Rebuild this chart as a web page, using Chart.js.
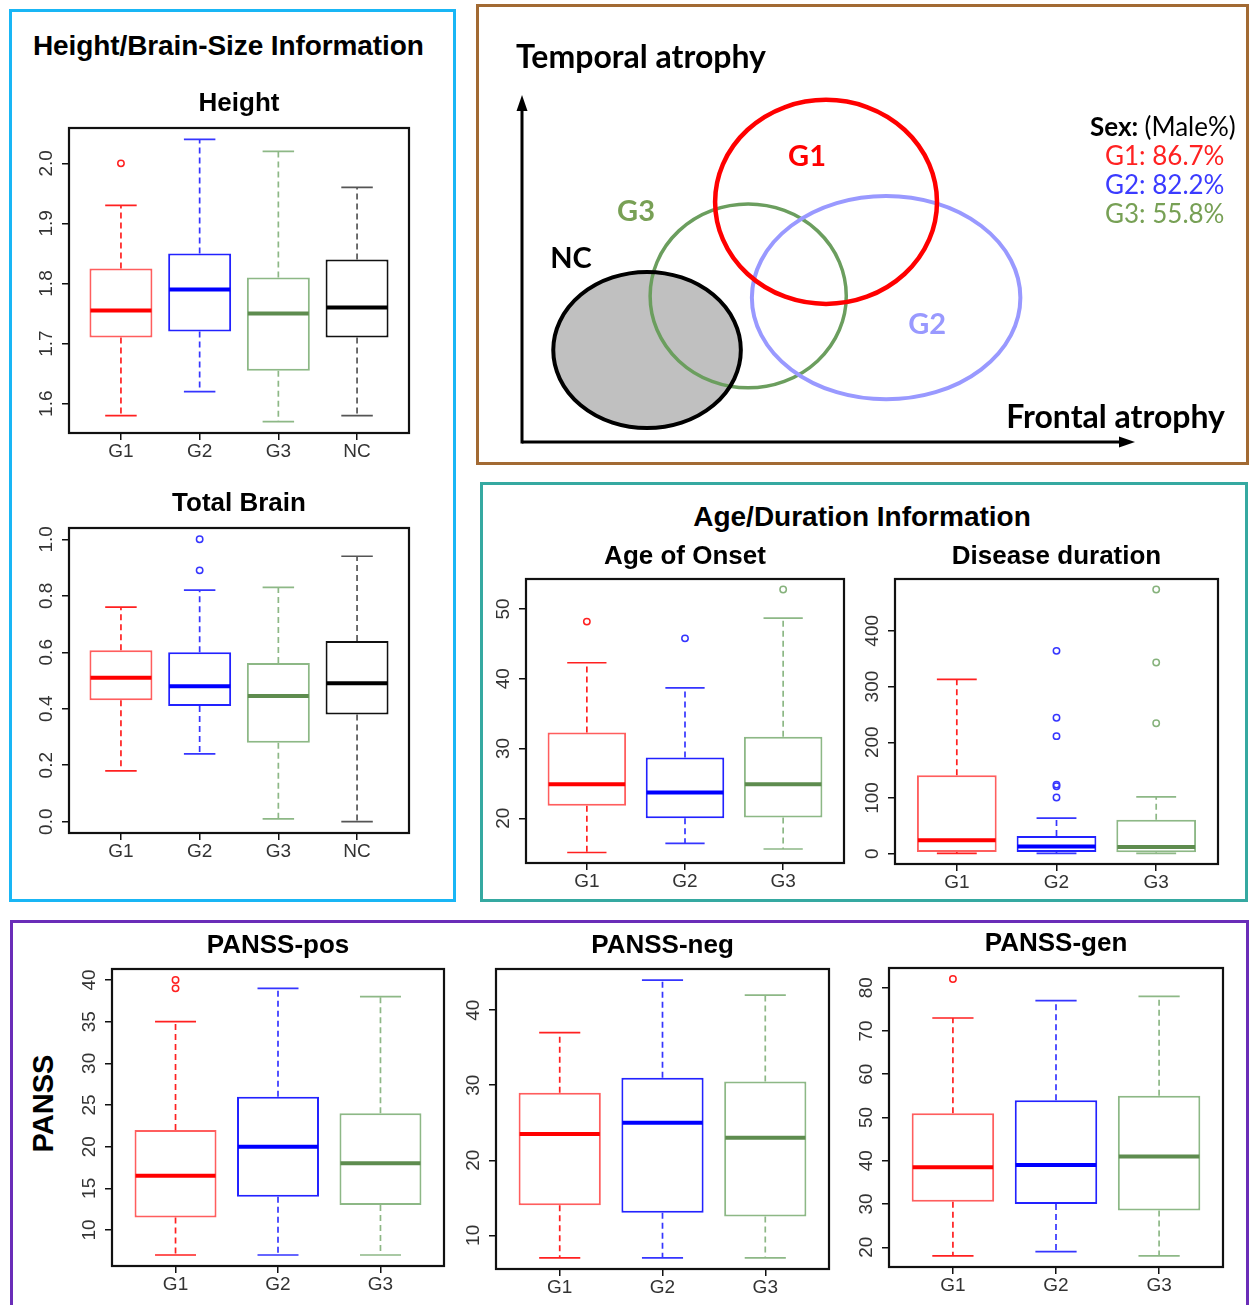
<!DOCTYPE html>
<html>
<head>
<meta charset="utf-8">
<script src="https://cdn.jsdelivr.net/npm/chart.js@4/dist/chart.umd.min.js"></script>
<style>
html,body{margin:0;padding:0;background:#fff;}
#page{position:relative;width:1255px;height:1305px;overflow:hidden;background:#fff;font-family:"Liberation Sans",Arial,sans-serif;}
.panel{position:absolute;box-sizing:border-box;}
canvas{position:absolute;}
.head{position:absolute;font-weight:bold;white-space:nowrap;color:#000;line-height:1;}
</style>
</head>
<body>
<div id="page">
  <div class="panel" style="left:9px;top:9px;width:447px;height:893px;border:3px solid #19b6f5;"></div>
  <div class="panel" style="left:476px;top:4px;width:773px;height:461px;border:3px solid #a26a33;"></div>
  <div class="panel" style="left:480px;top:482px;width:768px;height:420px;border:3px solid #35a9a1;"></div>
  <div class="panel" style="left:10px;top:920px;width:1239px;height:400px;border:3px solid #6a2db8;"></div>

  <div class="head" id="h1" style="left:33px;top:32px;font-size:28px;letter-spacing:-0.1px;">Height/Brain-Size Information</div>
  <div class="head" id="h2" style="left:612px;top:503px;width:500px;text-align:center;font-size:28px;">Age/Duration Information</div>
  <div class="head" id="h3" style="left:-7px;top:1089px;width:100px;text-align:center;font-size:29px;transform:rotate(-90deg);">PANSS</div>

  <canvas id="cHeight"></canvas>
  <canvas id="cBrain"></canvas>
  <canvas id="cVenn"></canvas>
  <canvas id="cOnset"></canvas>
  <canvas id="cDur"></canvas>
  <canvas id="cPos"></canvas>
  <canvas id="cNeg"></canvas>
  <canvas id="cGen"></canvas>
</div>

<script>
// ================= DATA =================
const groups4 = ['G1', 'G2', 'G3', 'NC'];
const groups3 = ['G1', 'G2', 'G3'];

// Height
const heightLow      = [1.58, 1.62, 1.57, 1.58];
const heightQ1       = [1.71, 1.72, 1.655, 1.71];
const heightMed      = [1.755, 1.79, 1.75, 1.76];
const heightQ3       = [1.825, 1.85, 1.81, 1.84];
const heightHigh     = [1.93, 2.04, 2.02, 1.96];
const heightOutliers = [[2.0], [], [], []];
const heightTicks    = [1.6, 1.7, 1.8, 1.9, 2.0];
const heightTickLabels = ['1.6', '1.7', '1.8', '1.9', '2.0'];

// Total Brain
const brainLow      = [0.18, 0.24, 0.01, 0.0];
const brainQ1       = [0.43, 0.41, 0.28, 0.38];
const brainMed      = [0.51, 0.48, 0.445, 0.49];
const brainQ3       = [0.607, 0.60, 0.562, 0.64];
const brainHigh     = [0.76, 0.82, 0.83, 0.94];
const brainOutliers = [[], [1.0, 0.89], [], []];
const brainTicks    = [0, 0.2, 0.4, 0.6, 0.8, 1.0];
const brainTickLabels = ['0.0', '0.2', '0.4', '0.6', '0.8', '1.0'];

// Age of Onset
const onsetLow      = [15.1, 16.4, 15.6];
const onsetQ1       = [21.8, 20.0, 20.1];
const onsetMed      = [24.9, 23.7, 24.9];
const onsetQ3       = [32.3, 28.7, 31.7];
const onsetHigh     = [42.3, 38.7, 48.7];
const onsetOutliers = [[48.2], [45.8], [52.8]];
const onsetTicks    = [20, 30, 40, 50];
const onsetTickLabels = ['20', '30', '40', '50'];

// Disease duration
const durLow      = [0.5, 0.5, 0.5];
const durQ1       = [3, 3, 2.5];
const durMed      = [24, 13, 12];
const durQ3       = [141, 32, 61];
const durHigh     = [313, 64, 102];
const durOutliers = [[], [364, 244, 211, 124, 121, 101], [474, 343, 234]];
const durTicks    = [0, 100, 200, 300, 400];
const durTickLabels = ['0', '100', '200', '300', '400'];

// PANSS-pos
const posLow      = [7, 7, 7];
const posQ1       = [11.5, 14, 13];
const posMed      = [16.5, 20, 18];
const posQ3       = [22, 26, 24];
const posHigh     = [35, 39, 38];
const posOutliers = [[40, 39], [], []];
const posTicks    = [10, 15, 20, 25, 30, 35, 40];
const posTickLabels = ['10', '15', '20', '25', '30', '35', '40'];

// PANSS-neg
const negLow      = [7, 7, 7];
const negQ1       = [14, 13, 12.5];
const negMed      = [23.5, 25, 23];
const negQ3       = [29, 31, 30.5];
const negHigh     = [37, 44, 42];
const negOutliers = [[], [], []];
const negTicks    = [10, 20, 30, 40];
const negTickLabels = ['10', '20', '30', '40'];

// PANSS-gen
const genLow      = [18, 19, 18];
const genQ1       = [30.5, 30, 28.5];
const genMed      = [38.5, 39, 41];
const genQ3       = [51, 54, 55];
const genHigh     = [73, 77, 78];
const genOutliers = [[82], [], []];
const genTicks    = [20, 30, 40, 50, 60, 70, 80];
const genTickLabels = ['20', '30', '40', '50', '60', '70', '80'];

// Sex (male %)
const sexGroups  = ['G1', 'G2', 'G3'];
const sexMalePct = [86.7, 82.2, 55.8];

// Venn-like atrophy diagram (frontal x temporal, arbitrary 0-100 units)
const vennNames = ['NC', 'G3', 'G2', 'G1'];
const vennCx = [20.4, 36.9, 59.4, 49.6];
const vennCy = [26.5, 42.1, 41.6, 69.2];
const vennRx = [15.3, 16.0, 21.9, 18.1];
const vennRy = [22.5, 26.5, 29.3, 29.4];

// ================= STYLE =================
const FONT = '"Liberation Sans", Arial, sans-serif';
const TICK_SIZE = 19;
const boxColor     = {G1: 'rgba(255,40,40,0.75)', G2: '#2222ff', G3: '#8db886', NC: '#111111'};
const medianColor  = {G1: '#ff0000', G2: '#0000ff', G3: '#5e8c4f', NC: '#000000'};
const whiskerColor = {G1: '#ff2020', G2: '#3535ff', G3: '#8db886', NC: '#555555'};
const pointColor   = {G1: '#ff2020', G2: '#3535ff', G3: '#86b27c', NC: '#333333'};

const boxPlugin = {
  id: 'boxParts',
  beforeDatasetsDraw(chart, args, o) {
    const ctx = chart.ctx, xs = chart.scales.x, ys = chart.scales.y;
    ctx.save();
    o.groups.forEach((g, i) => {
      const xc = xs.getPixelForValue(i + 1);
      const capL = xs.getPixelForValue(i + 1 - 0.2), capR = xs.getPixelForValue(i + 1 + 0.2);
      const yLo = ys.getPixelForValue(o.lo[i]), yQ1 = ys.getPixelForValue(o.q1[i]);
      const yQ3 = ys.getPixelForValue(o.q3[i]), yHi = ys.getPixelForValue(o.hi[i]);
      ctx.strokeStyle = whiskerColor[g];
      ctx.lineWidth = 1.7;
      ctx.setLineDash([6, 4]);
      ctx.beginPath();
      ctx.moveTo(xc, yQ3); ctx.lineTo(xc, yHi);
      ctx.moveTo(xc, yQ1); ctx.lineTo(xc, yLo);
      ctx.stroke();
      ctx.setLineDash([]);
      ctx.beginPath();
      ctx.moveTo(capL, yHi); ctx.lineTo(capR, yHi);
      ctx.moveTo(capL, yLo); ctx.lineTo(capR, yLo);
      ctx.stroke();
    });
    ctx.restore();
  },
  afterDatasetsDraw(chart, args, o) {
    const ctx = chart.ctx, xs = chart.scales.x, ys = chart.scales.y;
    ctx.save();
    o.groups.forEach((g, i) => {
      const l = xs.getPixelForValue(i + 1 - 0.4) + 1, r = xs.getPixelForValue(i + 1 + 0.4) - 1;
      const ym = ys.getPixelForValue(o.med[i]);
      ctx.strokeStyle = medianColor[g];
      ctx.lineWidth = 4;
      ctx.beginPath(); ctx.moveTo(l, ym); ctx.lineTo(r, ym); ctx.stroke();
    });
    const a = chart.chartArea;
    ctx.strokeStyle = '#111';
    ctx.lineWidth = 2.2;
    ctx.strokeRect(a.left, a.top, a.right - a.left, a.bottom - a.top);
    ctx.restore();
  }
};

function makeBox(id, title, groups, lo, q1, med, q3, hi, outs, ticks, tickLabels, place) {
  const YW = 62, XH = 38, TOP = 72, RP = 6;
  const canvas = document.getElementById(id);
  const w = place.R - place.L + YW + RP, h = place.B - place.T + TOP + XH;
  canvas.width = w; canvas.height = h;
  canvas.style.width = w + 'px'; canvas.style.height = h + 'px';
  canvas.style.left = (place.L - YW) + 'px';
  canvas.style.top = (place.T - TOP) + 'px';

  const all = lo.concat(hi).concat([].concat(...outs));
  const dmin = Math.min(...all), dmax = Math.max(...all);
  const pad = 0.04 * (dmax - dmin);
  const n = groups.length;

  const mctx = document.createElement('canvas').getContext('2d');
  mctx.font = TICK_SIZE + 'px ' + FONT;
  const widest = Math.max(...tickLabels.map(t => mctx.measureText(t).width));
  const yPad = 22 - 7 - widest / 2;

  const titleSize = 26, lh = titleSize * 1.2;
  const pt = place.titleY - (place.T - TOP) - lh / 2;
  const pb = TOP - lh - pt;

  const outData = [], outColors = [];
  outs.forEach((arr, i) => arr.forEach(v => { outData.push({x: i + 1, y: v}); outColors.push(pointColor[groups[i]]); }));

  return new Chart(canvas, {
    type: 'bar',
    data: {
      datasets: [
        {
          type: 'bar',
          data: groups.map((g, i) => ({x: i + 1, y: [q1[i], q3[i]]})),
          backgroundColor: '#ffffff',
          borderColor: groups.map(g => boxColor[g]),
          borderWidth: 2,
          borderSkipped: false,
          barPercentage: 0.8,
          categoryPercentage: 1.0,
          order: 2
        },
        {
          type: 'scatter',
          data: outData,
          pointStyle: 'circle',
          pointRadius: 3.2,
          pointBorderWidth: 1.5,
          pointBackgroundColor: 'rgba(0,0,0,0)',
          pointBorderColor: outColors,
          order: 1
        }
      ]
    },
    options: {
      responsive: false,
      animation: false,
      devicePixelRatio: 1,
      layout: {padding: {left: 0, right: RP, top: 0, bottom: 0}},
      plugins: {
        legend: {display: false},
        tooltip: {enabled: false},
        title: {
          display: true, text: title, fullSize: false, color: '#000',
          font: {family: FONT, size: titleSize, weight: 'bold', lineHeight: 1.2},
          padding: {top: pt, bottom: pb}
        },
        boxParts: {groups: groups, lo: lo, q1: q1, med: med, q3: q3, hi: hi}
      },
      scales: {
        x: {
          type: 'linear',
          min: 0.5 - 0.04 * n, max: n + 0.5 + 0.04 * n,
          offset: false,
          grid: {drawOnChartArea: false, drawTicks: true, tickLength: 7, color: '#111', lineWidth: 1.5, offset: false},
          border: {display: false},
          ticks: {font: {family: FONT, size: TICK_SIZE}, color: '#333', padding: 0, autoSkip: false, maxRotation: 0,
                  callback: (v) => groups[Math.round(v) - 1]},
          afterBuildTicks: s => { s.ticks = groups.map((g, i) => ({value: i + 1})); },
          afterFit: s => { s.height = XH; }
        },
        y: {
          type: 'linear',
          min: dmin - pad, max: dmax + pad,
          grid: {drawOnChartArea: false, drawTicks: true, tickLength: 7, color: '#111', lineWidth: 1.5},
          border: {display: false},
          ticks: {font: {family: FONT, size: TICK_SIZE}, color: '#333', padding: yPad, autoSkip: false,
                  minRotation: 90, maxRotation: 90, crossAlign: 'center',
                  callback: (v, idx) => tickLabels[idx]},
          afterBuildTicks: s => { s.ticks = ticks.map(v => ({value: v})); },
          afterFit: s => { s.width = YW; }
        }
      }
    },
    plugins: [boxPlugin]
  });
}

makeBox('cHeight', 'Height', groups4, heightLow, heightQ1, heightMed, heightQ3, heightHigh, heightOutliers, heightTicks, heightTickLabels,
        {L: 69, T: 128, R: 409, B: 433, titleY: 104});
makeBox('cBrain', 'Total Brain', groups4, brainLow, brainQ1, brainMed, brainQ3, brainHigh, brainOutliers, brainTicks, brainTickLabels,
        {L: 69, T: 528, R: 409, B: 833, titleY: 504});
makeBox('cOnset', 'Age of Onset', groups3, onsetLow, onsetQ1, onsetMed, onsetQ3, onsetHigh, onsetOutliers, onsetTicks, onsetTickLabels,
        {L: 526, T: 579, R: 844, B: 863, titleY: 557});
makeBox('cDur', 'Disease duration', groups3, durLow, durQ1, durMed, durQ3, durHigh, durOutliers, durTicks, durTickLabels,
        {L: 895, T: 579, R: 1218, B: 864, titleY: 557});
makeBox('cPos', 'PANSS-pos', groups3, posLow, posQ1, posMed, posQ3, posHigh, posOutliers, posTicks, posTickLabels,
        {L: 112, T: 969, R: 444, B: 1266, titleY: 946});
makeBox('cNeg', 'PANSS-neg', groups3, negLow, negQ1, negMed, negQ3, negHigh, negOutliers, negTicks, negTickLabels,
        {L: 496, T: 969, R: 829, B: 1269, titleY: 946});
makeBox('cGen', 'PANSS-gen', groups3, genLow, genQ1, genMed, genQ3, genHigh, genOutliers, genTicks, genTickLabels,
        {L: 889, T: 968, R: 1223, B: 1267, titleY: 944});

// ================= VENN-LIKE DIAGRAM =================
const vennStroke = {NC: '#000000', G3: '#6b9e5e', G2: '#9999ff', G1: '#ff0000'};
const vennWidth  = {NC: 4, G3: 3.5, G2: 4, G1: 4.5};
const vennLabelColor = {NC: '#000000', G3: '#78a055', G2: '#9999ff', G1: '#ff0000'};
const sexColor = {G1: '#ff2222', G2: '#3b3bff', G3: '#77a055'};
const VFONT = 'Lato, "Open Sans", sans-serif';

const vennPlugin = {
  id: 'venn',
  beforeDatasetsDraw(chart) {
    const ctx = chart.ctx, xs = chart.scales.x, ys = chart.scales.y;
    const path = (i) => {
      const cx = xs.getPixelForValue(vennCx[i]), cy = ys.getPixelForValue(vennCy[i]);
      const rx = xs.getPixelForValue(vennCx[i] + vennRx[i]) - cx;
      const ry = cy - ys.getPixelForValue(vennCy[i] + vennRy[i]);
      ctx.beginPath();
      ctx.ellipse(cx, cy, rx, ry, 0, 0, Math.PI * 2);
    };
    ctx.save();
    const iNC = vennNames.indexOf('NC');
    path(iNC); ctx.fillStyle = '#c0c0c0'; ctx.fill();
    vennNames.forEach((nm, i) => {
      if (nm === 'NC') return;
      path(i); ctx.strokeStyle = vennStroke[nm]; ctx.lineWidth = vennWidth[nm]; ctx.stroke();
    });
    path(iNC); ctx.strokeStyle = vennStroke.NC; ctx.lineWidth = vennWidth.NC; ctx.stroke();

    // axes arrows
    const x0 = xs.getPixelForValue(0), y0 = ys.getPixelForValue(0);
    const x1 = xs.getPixelForValue(100), y1 = ys.getPixelForValue(100);
    ctx.strokeStyle = '#000'; ctx.fillStyle = '#000'; ctx.lineWidth = 3;
    ctx.beginPath(); ctx.moveTo(x0, y0); ctx.lineTo(x1 - 12, y0); ctx.stroke();
    ctx.beginPath(); ctx.moveTo(x0, y0 + 1.5); ctx.lineTo(x0, y1 + 12); ctx.stroke();
    ctx.beginPath(); ctx.moveTo(x1, y0); ctx.lineTo(x1 - 16, y0 - 5.5); ctx.lineTo(x1 - 16, y0 + 5.5); ctx.closePath(); ctx.fill();
    ctx.beginPath(); ctx.moveTo(x0, y1); ctx.lineTo(x0 - 5.5, y1 + 16); ctx.lineTo(x0 + 5.5, y1 + 16); ctx.closePath(); ctx.fill();

    // group labels (placed in diagram units)
    const labelPos = {G1: [46.5, 82.3], G3: [18.6, 66.3], NC: [8.0, 52.7], G2: [66.1, 33.7]};
    ctx.font = 'bold 29px ' + VFONT;
    ctx.textAlign = 'center'; ctx.textBaseline = 'middle';
    vennNames.forEach(nm => {
      ctx.fillStyle = vennLabelColor[nm];
      ctx.fillText(nm, xs.getPixelForValue(labelPos[nm][0]), ys.getPixelForValue(labelPos[nm][1]));
    });

    // axis titles
    ctx.fillStyle = '#000';
    ctx.font = 'bold 32px ' + VFONT;
    ctx.textAlign = 'left';
    ctx.fillText('Temporal atrophy', x0 - 6, y1 - 37);
    ctx.textAlign = 'right';
    ctx.fillText('Frontal atrophy', x1 + 90, y0 - 24);

    // sex legend
    const lx = x1 - 45, ly = y1 + 33;
    ctx.textAlign = 'left';
    ctx.font = 'bold 26px ' + VFONT;
    ctx.fillStyle = '#000';
    ctx.fillText('Sex:', lx, ly);
    const sw = ctx.measureText('Sex: ').width;
    ctx.font = '26px ' + VFONT;
    ctx.fillText('(Male%)', lx + sw, ly);
    sexGroups.forEach((g, i) => {
      ctx.fillStyle = sexColor[g];
      ctx.fillText(g + ': ' + sexMalePct[i].toFixed(1) + '%', lx + 15, ly + 29 * (i + 1));
    });
    ctx.restore();
  }
};

(function () {
  const canvas = document.getElementById('cVenn');
  const w = 765, h = 453;
  canvas.width = w; canvas.height = h;
  canvas.style.width = w + 'px'; canvas.style.height = h + 'px';
  canvas.style.left = '480px'; canvas.style.top = '8px';
  new Chart(canvas, {
    type: 'scatter',
    data: {
      datasets: [{
        data: vennNames.map((nm, i) => ({x: vennCx[i], y: vennCy[i]})),
        pointRadius: 0
      }]
    },
    options: {
      responsive: false, animation: false, devicePixelRatio: 1,
      layout: {padding: {left: 42, top: 87, right: 110, bottom: 19}},
      plugins: {legend: {display: false}, tooltip: {enabled: false}},
      scales: {
        x: {type: 'linear', min: 0, max: 100, display: false},
        y: {type: 'linear', min: 0, max: 100, display: false}
      }
    },
    plugins: [vennPlugin]
  });
})();
</script>
</body>
</html>
